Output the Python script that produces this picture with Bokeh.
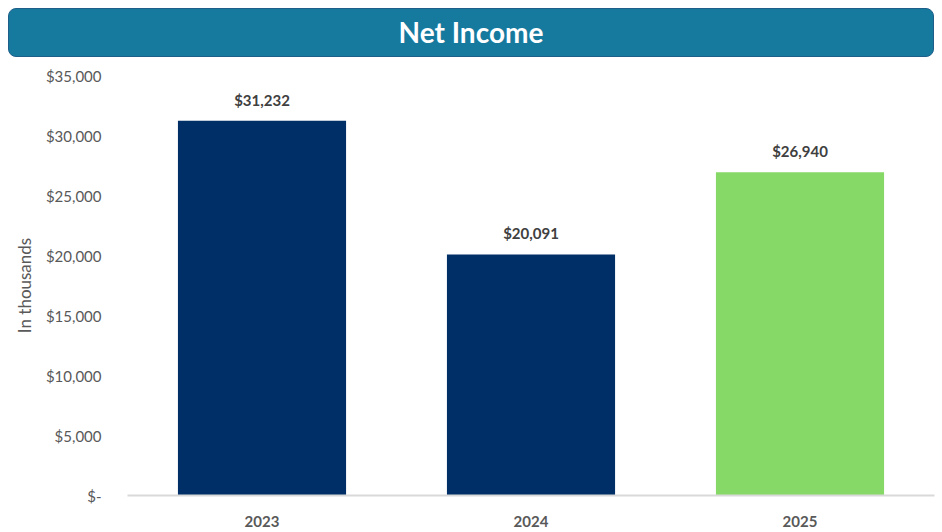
from bokeh.plotting import figure
from bokeh.models import ColumnDataSource, LabelSet, FixedTicker, Div
from bokeh.layouts import column
from bokeh.core.properties import value
from bokeh.embed import file_html
from bokeh.resources import INLINE

# ---- data ----
years = ["2023", "2024", "2025"]
net_income = [31232, 20091, 26940]
bar_colors = ["#002F67", "#002F67", "#86D966"]
value_labels = ["$31,232", "$20,091", "$26,940"]
y_ticks = [0, 5000, 10000, 15000, 20000, 25000, 30000, 35000]
y_tick_labels = ["$-", "$5,000", "$10,000", "$15,000", "$20,000", "$25,000", "$30,000", "$35,000"]
title_text = "Net Income"
y_axis_title = "In thousands"

FONT = "Lato"

src = ColumnDataSource(dict(year=years, value=net_income, color=bar_colors, label=value_labels))

title_div = Div(
    text=(f'<div style="box-sizing:border-box;width:926px;height:49px;background:#167A9F;'
          f'border:1px solid #1E5F8A;border-radius:8px;color:#FFFFFF;'
          f'font-family:{FONT};font-weight:bold;font-size:28px;text-align:center;'
          f'line-height:46px;">{title_text}</div>'),
    width=926, height=49, margin=(8, 8, 0, 8),
)

p = figure(
    x_range=years, y_range=(0, 35000),
    width=942, height=475,
    output_backend="svg", toolbar_location=None,
    min_border_left=127, min_border_right=8, min_border_top=18, min_border_bottom=37,
)
p.outline_line_color = None
p.xgrid.grid_line_color = None
p.ygrid.grid_line_color = None

p.vbar(x="year", top="value", width=0.625, color="color", source=src, line_color=None)

labels = LabelSet(x="year", y="value", text="label", source=src,
                  text_align="center", text_baseline="bottom", y_offset=12,
                  text_font=value(FONT), text_font_style="bold", text_font_size="15px",
                  text_color="#404040")
p.add_layout(labels)

p.yaxis.ticker = FixedTicker(ticks=y_ticks)
p.yaxis.major_label_overrides = {t: l for t, l in zip(y_ticks, y_tick_labels)}
p.yaxis.axis_line_color = None
p.yaxis.major_tick_line_color = None
p.yaxis.minor_tick_line_color = None
p.yaxis.major_label_standoff = 20
p.yaxis.major_label_text_font = FONT
p.yaxis.major_label_text_font_size = "15px"
p.yaxis.major_label_text_color = "#595959"
p.yaxis.axis_label = y_axis_title
p.yaxis.axis_label_text_font = FONT
p.yaxis.axis_label_text_font_style = "normal"
p.yaxis.axis_label_text_font_size = "17px"
p.yaxis.axis_label_text_color = "#595959"
p.yaxis.axis_label_standoff = 8

p.xaxis.axis_line_color = "#D9D9D9"
p.xaxis.axis_line_width = 2
p.xaxis.major_tick_line_color = None
p.xaxis.minor_tick_line_color = None
p.xaxis.major_label_standoff = 14
p.xaxis.major_label_text_font = FONT
p.xaxis.major_label_text_font_style = "bold"
p.xaxis.major_label_text_font_size = "15px"
p.xaxis.major_label_text_color = "#595959"

layout = column(title_div, p, spacing=0)
open("out.html", "w").write(file_html(layout, INLINE))
